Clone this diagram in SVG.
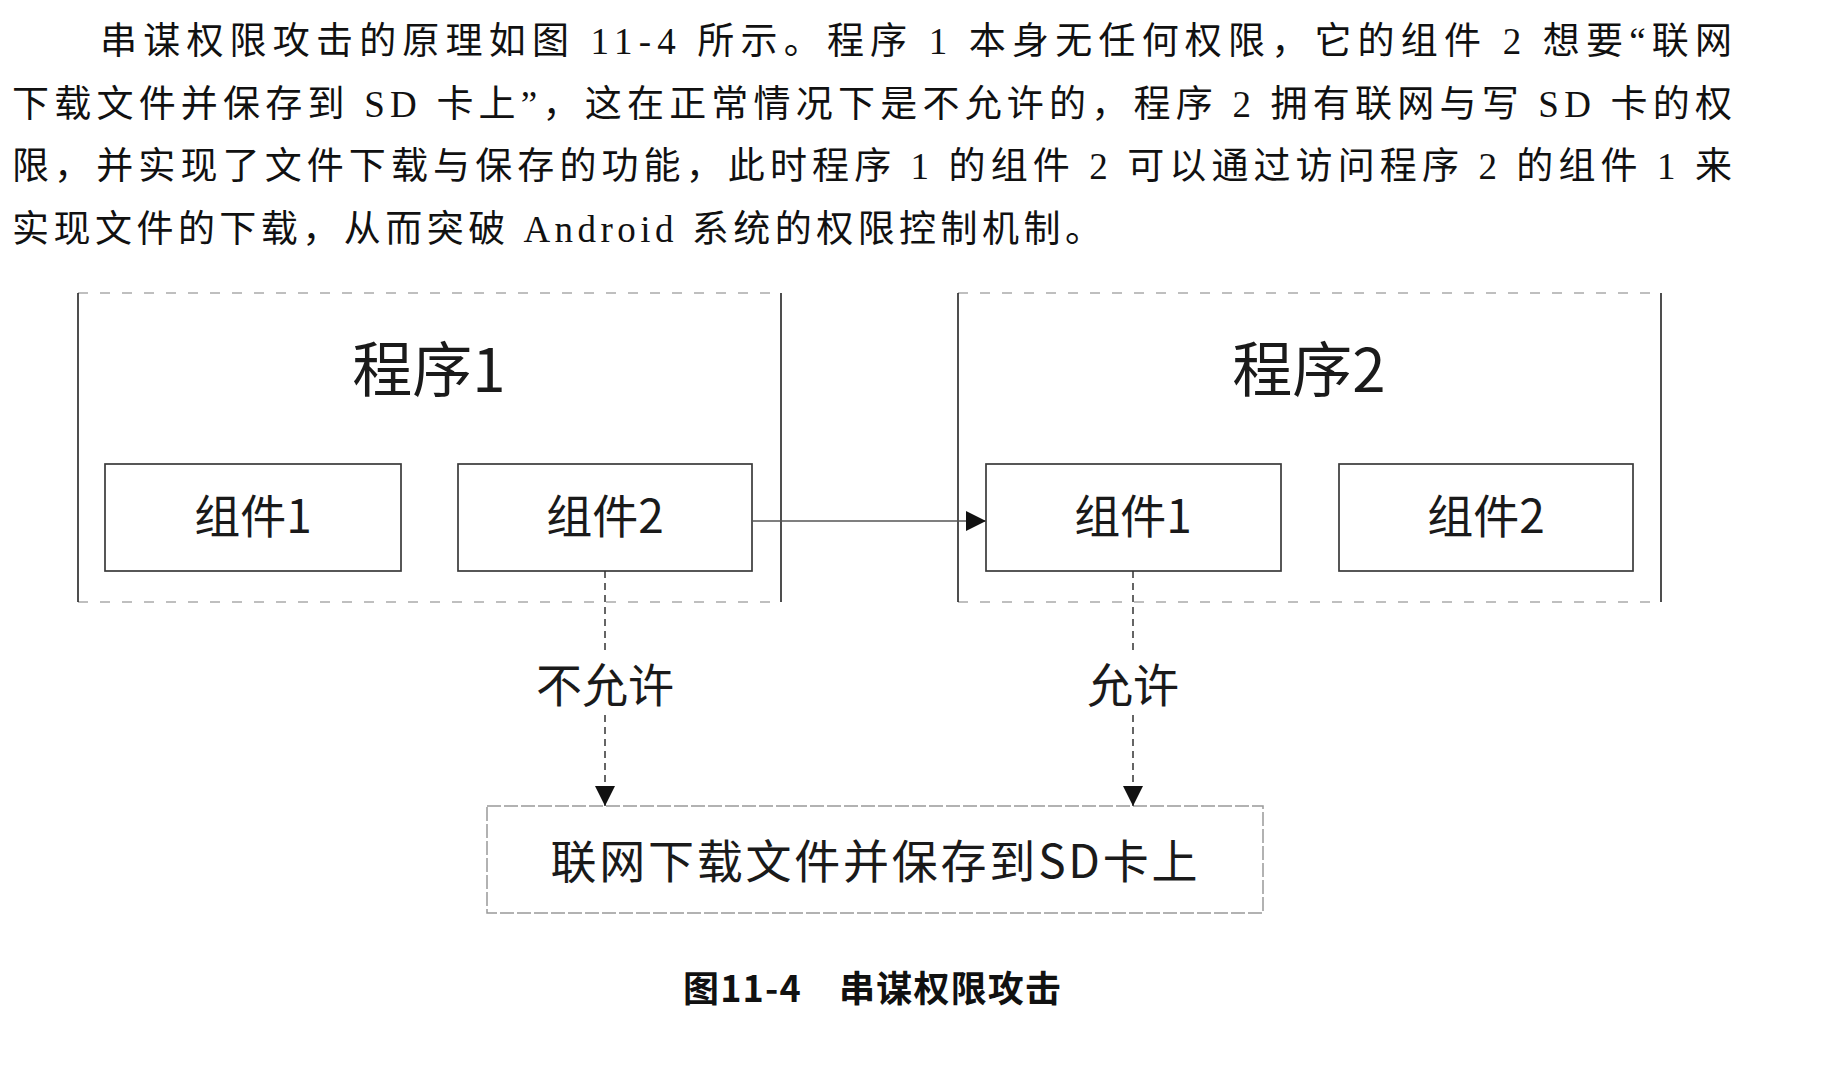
<svg xmlns="http://www.w3.org/2000/svg" width="1837" height="1080" viewBox="0 0 1837 1080">
<style>
.para{font-family:"Liberation Serif","Noto Sans CJK SC",serif;font-size:37px;fill:#111}
.lbl{font-family:"Noto Sans CJK SC","Noto Sans",sans-serif;fill:#1a1a1a;text-anchor:middle}
.outer-tb{stroke:#aaa;stroke-width:1.5;stroke-dasharray:10 12;fill:none}
.outer-side{stroke:#222;stroke-width:1.6}
.comp{fill:#fff;stroke:#3a3a3a;stroke-width:1.7}
.bottom{fill:#fff;stroke:#999;stroke-width:1.5;stroke-dasharray:14 3}
.solid{stroke:#555;stroke-width:1.5;fill:none}
.dash{stroke:#333;stroke-width:1.5;stroke-dasharray:7 5;fill:none}
.cap{font-family:"Noto Sans CJK SC","Noto Sans",sans-serif;font-weight:bold;font-size:36px;fill:#111}
</style>
<defs>
<marker id="ah" viewBox="0 0 10 10" refX="10" refY="5" markerWidth="20" markerHeight="20" markerUnits="userSpaceOnUse" orient="auto">
<path d="M0,0 L10,5 L0,10 z" fill="#111"/>
</marker>
</defs>
<rect width="1837" height="1080" fill="#fff"/>

<g id="paragraph">
<text class="para" x="100" y="54" textLength="1632" lengthAdjust="spacing">串谋权限攻击的原理如图 11-4 所示。程序 1 本身无任何权限，它的组件 2 想要“联网</text>
<text class="para" x="12" y="117" textLength="1720" lengthAdjust="spacing">下载文件并保存到 SD 卡上”，这在正常情况下是不允许的，程序 2 拥有联网与写 SD 卡的权</text>
<text class="para" x="12" y="179" textLength="1720" lengthAdjust="spacing">限，并实现了文件下载与保存的功能，此时程序 1 的组件 2 可以通过访问程序 2 的组件 1 来</text>
<text class="para" x="12" y="242" textLength="1090" lengthAdjust="spacing">实现文件的下载，从而突破 Android 系统的权限控制机制。</text>
</g>

<g id="program1">
<line class="outer-tb" x1="78" y1="293" x2="781" y2="293"/>
<line class="outer-tb" x1="78" y1="602" x2="781" y2="602"/>
<line class="outer-side" x1="78" y1="293" x2="78" y2="602"/>
<line class="outer-side" x1="781" y1="293" x2="781" y2="602"/>
<text class="lbl" x="429" y="392" font-size="60">程序1</text>
</g>

<g id="program2">
<line class="outer-tb" x1="958" y1="293" x2="1661" y2="293"/>
<line class="outer-tb" x1="958" y1="602" x2="1661" y2="602"/>
<line class="outer-side" x1="958" y1="293" x2="958" y2="602"/>
<line class="outer-side" x1="1661" y1="293" x2="1661" y2="602"/>
<text class="lbl" x="1309" y="392" font-size="60">程序2</text>
</g>

<g id="p1-comp1">
<rect class="comp" x="105" y="464" width="296" height="107"/>
<text class="lbl" x="253" y="533" font-size="46">组件1</text>
</g>
<g id="p1-comp2">
<rect class="comp" x="458" y="464" width="294" height="107"/>
<text class="lbl" x="605" y="533" font-size="46">组件2</text>
</g>
<g id="p2-comp1">
<rect class="comp" x="986" y="464" width="295" height="107"/>
<text class="lbl" x="1133" y="533" font-size="46">组件1</text>
</g>
<g id="p2-comp2">
<rect class="comp" x="1339" y="464" width="294" height="107"/>
<text class="lbl" x="1486" y="533" font-size="46">组件2</text>
</g>

<g id="target">
<rect class="bottom" x="487" y="806" width="776" height="107"/>
<text class="lbl" x="874" y="878" font-size="46" textLength="647" lengthAdjust="spacing">联网下载文件并保存到SD卡上</text>
</g>

<g id="connectors">
<line class="solid" x1="752" y1="521" x2="986" y2="521" marker-end="url(#ah)"/>
<line class="dash" x1="605" y1="571" x2="605" y2="655"/>
<line class="dash" x1="605" y1="715" x2="605" y2="806" marker-end="url(#ah)"/>
<line class="dash" x1="1133" y1="571" x2="1133" y2="655"/>
<line class="dash" x1="1133" y1="715" x2="1133" y2="806" marker-end="url(#ah)"/>
<text class="lbl" x="605" y="702" font-size="46">不允许</text>
<text class="lbl" x="1133" y="702" font-size="46">允许</text>
</g>

<g id="caption">
<text class="cap" x="683" y="1002" textLength="378" lengthAdjust="spacing">图11-4　串谋权限攻击</text>
</g>
</svg>
